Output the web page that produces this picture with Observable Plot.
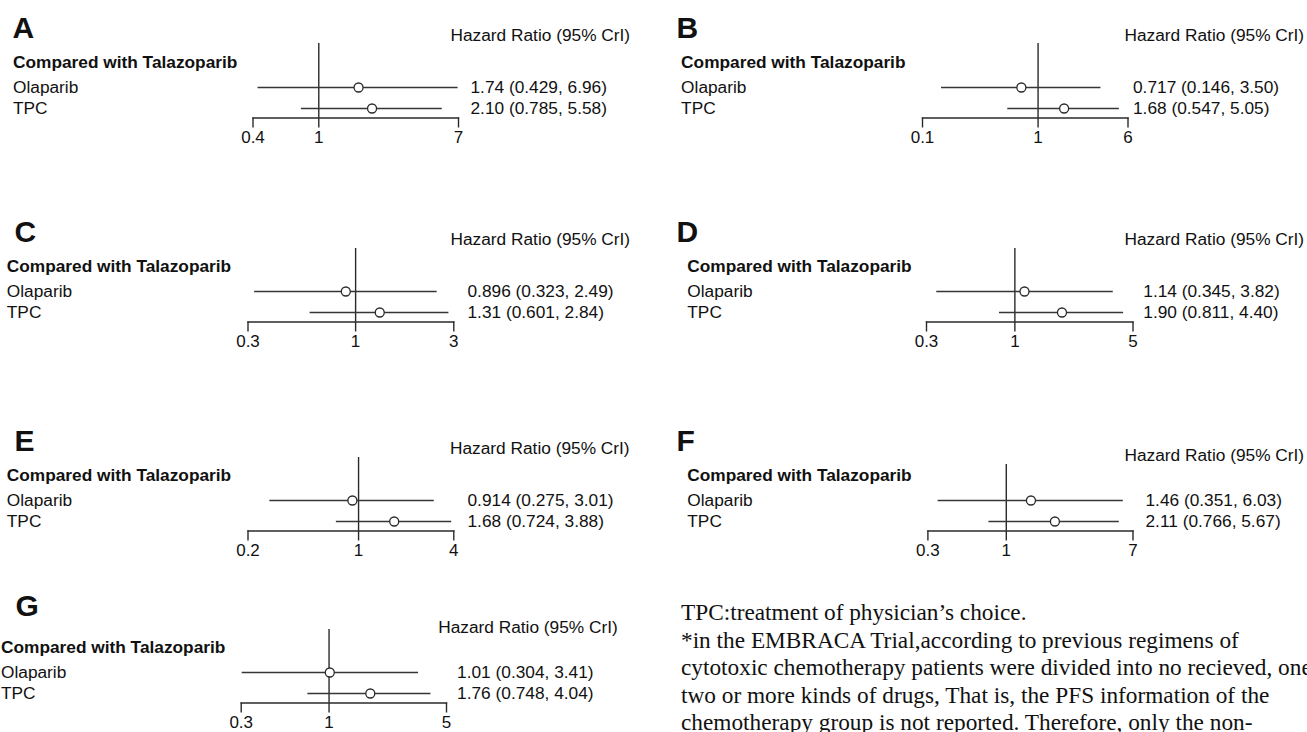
<!DOCTYPE html>
<html><head><meta charset="utf-8">
<script src="https://cdn.jsdelivr.net/npm/d3@7"></script>
<script src="https://cdn.jsdelivr.net/npm/@observablehq/plot@0.6"></script>
<style>
html,body{margin:0;padding:0;background:#fff;}
#root{position:relative;width:1307px;height:732px;overflow:hidden;background:#fff;}
.panel{position:absolute;}
#note{position:absolute;left:681px;top:599px;font-family:"Liberation Serif","Times New Roman",serif;font-size:23.3px;line-height:27.6px;white-space:nowrap;color:#111;}
</style></head><body><div id="root"></div>
<script>
// ---- data ----
const panels = ["A","B","C","D","E","F","G"];
const treatments = ["Olaparib","TPC"];
const olaparibHR = [1.74, 0.717, 0.896, 1.14, 0.914, 1.46, 1.01];
const olaparibLo = [0.429, 0.146, 0.323, 0.345, 0.275, 0.351, 0.304];
const olaparibHi = [6.96, 3.50, 2.49, 3.82, 3.01, 6.03, 3.41];
const tpcHR = [2.10, 1.68, 1.31, 1.90, 1.68, 2.11, 1.76];
const tpcLo = [0.785, 0.547, 0.601, 0.811, 0.724, 0.766, 0.748];
const tpcHi = [5.58, 5.05, 2.84, 4.40, 3.88, 5.67, 4.04];
const tickLow = [0.4, 0.1, 0.3, 0.3, 0.2, 0.3, 0.3];
const tickHigh = [7, 6, 3, 5, 4, 7, 5];
const tickLowLabels = ["0.4","0.1","0.3","0.3","0.2","0.3","0.3"];
const tickHighLabels = ["7","6","3","5","4","7","5"];
const headerText = "Hazard Ratio (95% CrI)";
const groupTitle = "Compared with Talazoparib";
const noteLines = [
  "TPC:treatment of physician\u2019s choice.",
  "*in the EMBRACA Trial,according to previous regimens of",
  "cytotoxic chemotherapy patients were divided into no recieved, one,",
  "two or more kinds of drugs, That is, the PFS information of the",
  "chemotherapy group is not reported. Therefore, only the non-"
];

// ---- layout (pixels) ----
const layout = [
  {left:0,   top:0,   width:660, x0:252.5, x1:458,   textX:12.5, letterX:12, hrX:450,   valX:470,   hrY:35, lineTop:43, letterY:27.5},
  {left:660, top:0,   width:647, x0:262,   x1:467.5, textX:20.6, letterX:16, hrX:464,   valX:472.5, hrY:35, lineTop:43, letterY:27.5},
  {left:0,   top:204, width:660, x0:247.5, x1:453.3, textX:6.3,  letterX:14, hrX:450,   valX:467,   hrY:35, lineTop:44, letterY:27.5},
  {left:660, top:204, width:647, x0:266,   x1:472.5, textX:26.8, letterX:16, hrX:464,   valX:482.8, hrY:35, lineTop:44, letterY:27.5},
  {left:0,   top:413, width:660, x0:247.5, x1:453.3, textX:6.3,  letterX:14, hrX:449.5, valX:467,   hrY:35, lineTop:44, letterY:27.5},
  {left:660, top:413, width:647, x0:267.4, x1:472.5, textX:26.8, letterX:16, hrX:464,   valX:485,   hrY:42, lineTop:51, letterY:28},
  {left:0,   top:585, width:660, x0:240.7, x1:446,   textX:0.5,  letterX:15, hrX:437.7, valX:456.6, hrY:42, lineTop:44, letterY:21}
];
const FONT = "'Liberation Sans', Arial, Helvetica, sans-serif";
const H = 150, axisY = 117.5, comparedY = 62;
const fmt = d3.format(".3r");
const root = document.getElementById("root");

panels.forEach((p, i) => {
  const L = layout[i];
  const rows = [
    {name: treatments[0], hr: olaparibHR[i], lo: olaparibLo[i], hi: olaparibHi[i]},
    {name: treatments[1], hr: tpcHR[i], lo: tpcLo[i], hi: tpcHi[i]}
  ];
  rows.forEach(r => r.label = `${fmt(r.hr)} (${fmt(r.lo)}, ${fmt(r.hi)})`);
  const tickVals = [tickLow[i], 1, tickHigh[i]];
  const tickLabs = new Map([[tickLow[i], tickLowLabels[i]], [1, "1"], [tickHigh[i], tickHighLabels[i]]]);
  const lineTop = L.lineTop;
  const chart = Plot.plot({
    width: L.width, height: H,
    marginLeft: L.x0, marginRight: L.width - L.x1, marginTop: lineTop, marginBottom: H - axisY,
    style: {fontFamily: FONT, fontSize: "17px", color: "#111", background: "transparent", overflow: "visible"},
    x: {type: "log", domain: [tickLow[i], tickHigh[i]], axis: null},
    y: {type: "point", domain: treatments, range: [87, 108], padding: 0, axis: null},
    marks: [
      Plot.frame({anchor: "bottom", stroke: "#2a2a2a", strokeWidth: 1.4}),
      Plot.ruleX([1], {stroke: "#2a2a2a", strokeWidth: 1.4}),
      Plot.ruleY(rows, {y: "name", x1: "lo", x2: "hi", stroke: "#363636", strokeWidth: 1.7}),
      Plot.dot(rows, {x: "hr", y: "name", r: 4.5, fill: "white", stroke: "#2a2a2a", strokeWidth: 1.3}),
      Plot.axisX({ticks: tickVals, tickFormat: d => tickLabs.get(d), tickSize: 10, tickPadding: 3,
        stroke: "#2a2a2a", strokeWidth: 1.4, strokeOpacity: 1, fill: "#111", fontSize: 17, label: null}),
      Plot.text(rows, {y: "name", text: "name", frameAnchor: "left", dx: L.textX - L.x0, textAnchor: "start", lineAnchor: "middle", fontSize: 17.3, fill: "#111"}),
      Plot.text(rows, {y: "name", text: "label", frameAnchor: "right", dx: L.valX - L.x1, textAnchor: "start", lineAnchor: "middle", fontSize: 17.3, fill: "#111"}),
      Plot.text([groupTitle], {text: d => d, frameAnchor: "top-left", dx: L.textX - L.x0, dy: comparedY - lineTop, textAnchor: "start", lineAnchor: "middle", fontSize: 17.3, fontWeight: "bold", fill: "#111"}),
      Plot.text([headerText], {text: d => d, frameAnchor: "top-left", dx: L.hrX - L.x0, dy: L.hrY - lineTop, textAnchor: "start", lineAnchor: "middle", fontSize: 17.3, fill: "#111"}),
      Plot.text([p], {text: d => d, frameAnchor: "top-left", dx: L.letterX - L.x0, dy: L.letterY - lineTop, textAnchor: "start", lineAnchor: "middle", fontSize: 30, fontWeight: "bold", fill: "#111"})
    ]
  });
  chart.classList.add("panel");
  chart.style.left = L.left + "px";
  chart.style.top = L.top + "px";
  root.appendChild(chart);
});

const note = document.createElement("div");
note.id = "note";
noteLines.forEach(t => { const d = document.createElement("div"); d.textContent = t; note.appendChild(d); });
root.appendChild(note);
</script>
</body></html>
